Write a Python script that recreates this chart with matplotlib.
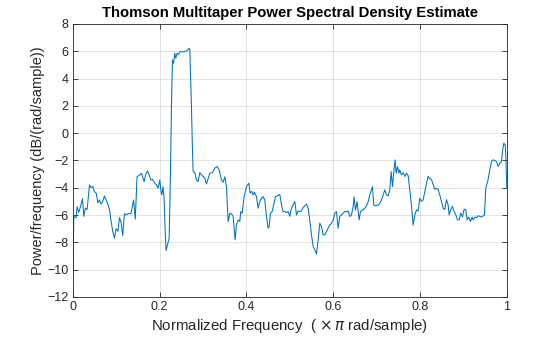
import numpy as np
import matplotlib
matplotlib.use("Agg")
import matplotlib.pyplot as plt

# normalized frequency (x pi rad/sample)
freq = [
    0.0, 0.0023, 0.0077, 0.010, 0.0138, 0.0177, 0.0223, 0.0253, 0.029, 0.033,
    0.0384, 0.0422, 0.046, 0.050, 0.054, 0.0576, 0.0614, 0.065, 0.069, 0.073,
    0.0768, 0.0806, 0.0845, 0.088, 0.092, 0.096, 0.0998, 0.104, 0.1075, 0.111,
    0.115, 0.119, 0.123, 0.127, 0.1306, 0.134, 0.140, 0.144, 0.148,
    0.1544, 0.158, 0.1605, 0.1644, 0.1682, 0.172, 0.1759, 0.1797, 0.1836, 0.1889,
    0.1928, 0.1966, 0.2005, 0.2028, 0.2051, 0.2081, 0.2104, 0.2128, 0.215, 0.2181,
    0.222, 0.225, 0.2273, 0.2296, 0.232, 0.235, 0.2373, 0.2404, 0.2435, 0.2465,
    0.2527, 0.2581, 0.2635, 0.2681, 0.2696, 0.2711, 0.2734, 0.2757, 0.2773, 0.2811,
    0.285, 0.2888, 0.2926, 0.2965, 0.3003, 0.3041, 0.308,
    0.3157, 0.3218, 0.327, 0.3326, 0.3372, 0.3425, 0.3464, 0.3502, 0.354, 0.3579,
    0.3618, 0.3656, 0.3694, 0.374, 0.377, 0.381, 0.3848, 0.387, 0.3901, 0.3948,
    0.4002, 0.4055, 0.4086, 0.4124, 0.4155, 0.4186, 0.4232, 0.427, 0.4309, 0.4347,
    0.4386, 0.4424, 0.4462, 0.450, 0.4524, 0.4555, 0.4593, 0.4631, 0.467,
    0.477, 0.4808, 0.4846, 0.4885, 0.4923, 0.4962, 0.500, 0.5038, 0.5077, 0.5115,
    0.5154, 0.5192, 0.523, 0.5269, 0.5307, 0.5346, 0.5384, 0.5422, 0.5461, 0.550,
    0.5538, 0.5576, 0.5615, 0.5653, 0.5691, 0.573, 0.5768, 0.5806, 0.5845, 0.5883,
    0.5922, 0.596, 0.5998, 0.6037, 0.6075, 0.6114, 0.6152, 0.619, 0.6229, 0.6267,
    0.6306, 0.6344,
    0.6382, 0.642, 0.6459, 0.6482, 0.6513, 0.6551, 0.6597, 0.6628, 0.6674, 0.6728,
    0.6767, 0.6805, 0.6843, 0.6882, 0.6905, 0.6935, 0.6982, 0.7035, 0.7074, 0.7112,
    0.715, 0.7189, 0.7227, 0.7265, 0.7304, 0.7335, 0.7366, 0.7404, 0.7427, 0.745,
    0.7481, 0.7512, 0.7535, 0.7573, 0.7611, 0.765, 0.7688, 0.7727, 0.7765, 0.7803,
    0.7842, 0.788, 0.7919, 0.7957,
    0.7995, 0.8034, 0.8072, 0.811, 0.8149, 0.8187, 0.8226, 0.8264, 0.8303, 0.8341,
    0.8379, 0.8418, 0.8456, 0.8495, 0.8533, 0.8571, 0.861, 0.8648, 0.8671, 0.871,
    0.8748, 0.8786, 0.8825, 0.8863, 0.8902, 0.894, 0.8978, 0.9017, 0.9055, 0.9086,
    0.9124, 0.9163, 0.9201, 0.9224, 0.9263, 0.9301, 0.9339, 0.9378, 0.9416, 0.9455,
    0.9485, 0.9516, 0.957, 0.9608, 0.9647, 0.9685, 0.9724, 0.9762, 0.980, 0.9839,
    0.9877, 0.990, 0.9931, 0.9962, 0.9977, 1.0,
]

# power/frequency in dB/(rad/sample)
psd_db = [
    -10.3, -6.1, -6.2, -5.4, -5.8, -5.4, -4.8, -6.1, -5.5, -5.6,
    -3.8, -4.0, -3.9, -4.3, -4.4, -5.1, -4.9, -5.2, -5.0, -4.6,
    -4.9, -5.2, -5.6, -6.4, -7.2, -7.7, -7.0, -7.2, -6.2, -6.5,
    -7.5, -5.9, -6.0, -5.9, -5.9, -5.9, -4.9, -6.3, -3.2,
    -3.06, -2.94, -3.18, -3.55, -3.0, -2.77, -3.06, -3.43, -3.38, -3.67,
    -3.8, -4.04, -3.43, -4.16, -4.53, -3.92, -4.89, -7.09, -8.61, -8.19,
    -7.7, -3.0, 1.94, 5.36, 5.12, 5.85, 5.49, 5.85, 5.75, 5.97,
    5.95, 5.97, 6.05, 6.22, 6.1, 4.39, 1.94, -1.23, -2.82, -2.89,
    -3.43, -3.55, -2.89, -3.06, -3.18, -3.3, -3.72,
    -2.94, -2.9, -2.57, -2.45, -2.7, -3.43, -3.6, -3.2, -3.92, -6.48,
    -5.87, -5.92, -6.1, -7.82, -6.73, -6.36, -6.48, -5.75, -5.87, -4.65,
    -3.92, -3.67, -4.4, -4.27, -4.53, -4.33, -4.65, -5.5, -5.0, -4.77,
    -4.65, -4.9, -6.1, -6.97, -6.85, -5.87, -5.75, -5.23, -4.65,
    -4.5, -5.23, -5.75, -5.75, -5.82, -5.75, -6.1, -5.5, -5.27, -5.0,
    -6.0, -5.7, -5.75, -5.7, -5.45, -5.33, -5.2, -5.5, -6.4, -7.46,
    -8.31, -8.55, -8.85, -7.82, -6.6, -6.85, -7.46, -7.46, -7.2, -6.97,
    -6.73, -6.6, -6.4, -5.87, -5.75, -6.97, -6.1, -6.0, -5.87, -5.75,
    -5.75, -5.7,
    -6.11, -6.0, -5.4, -4.67, -5.64, -5.03, -6.35, -5.76, -5.64, -5.5,
    -5.33, -5.03, -4.53, -4.16, -3.92, -5.27, -5.33, -5.27, -5.15, -4.9,
    -4.53, -4.16, -4.53, -4.6, -4.16, -2.82, -3.92, -2.58, -1.96, -2.94,
    -2.45, -2.94, -2.7, -3.06, -2.9, -3.18, -2.94, -3.12, -4.16, -5.27,
    -6.73, -6.0, -5.64, -5.7,
    -4.77, -5.0, -4.9, -4.3, -3.7, -3.17, -3.33, -3.4, -3.77, -4.12,
    -4.05, -4.12, -4.53, -5.01, -5.5, -5.6, -4.88, -5.25, -5.99, -5.6,
    -5.37, -5.74, -5.99, -6.36, -6.36, -5.86, -6.15, -5.57, -5.62, -6.36,
    -6.15, -6.48, -6.15, -6.36, -6.15, -6.2, -6.06, -6.1, -6.15, -6.06,
    -6.0, -4.05, -3.4, -2.67, -2.08, -1.96, -2.0, -2.08, -2.45, -2.2,
    -2.08, -1.34, -0.74, -0.86, -1.6, -4.05,
]

x_ticks = [0, 0.2, 0.4, 0.6, 0.8, 1]
x_tick_labels = ["0", "0.2", "0.4", "0.6", "0.8", "1"]
y_ticks = list(range(-12, 9, 2))

plt.rcParams['font.family'] = ['Liberation Sans', 'DejaVu Sans']
plt.rcParams['mathtext.fontset'] = 'dejavusans'

fig = plt.figure(figsize=(5.6, 3.37), dpi=100)
ax = fig.add_axes([0.130, 0.119, 0.775, 0.810])

ax.plot(freq, psd_db, color='#0072BD', linewidth=0.75)

ax.set_xlim(0, 1)
ax.set_ylim(-12, 8)
ax.set_xticks(x_ticks)
ax.set_xticklabels(x_tick_labels)
ax.set_yticks(y_ticks)

edge = '#262626'
ax.grid(True, color='#262626', alpha=0.15, linewidth=0.6)
ax.set_axisbelow(True)
for s in ax.spines.values():
    s.set_color(edge)
    s.set_linewidth(0.6)
ax.tick_params(direction='in', length=3.5, width=0.6, colors=edge,
               labelsize=9, top=True, right=True, pad=3)

ax.set_title('Thomson Multitaper Power Spectral Density Estimate',
             fontsize=10.7, fontweight='bold', color='black', pad=5)
ax.set_xlabel(r'Normalized Frequency  ( $\times\,\pi$ rad/sample)',
              fontsize=10.8, color=edge, labelpad=3)
ax.set_ylabel('Power/frequency (dB/(rad/sample))', fontsize=10.5, color=edge,
              labelpad=2)

fig.savefig('out.png', dpi=100)
